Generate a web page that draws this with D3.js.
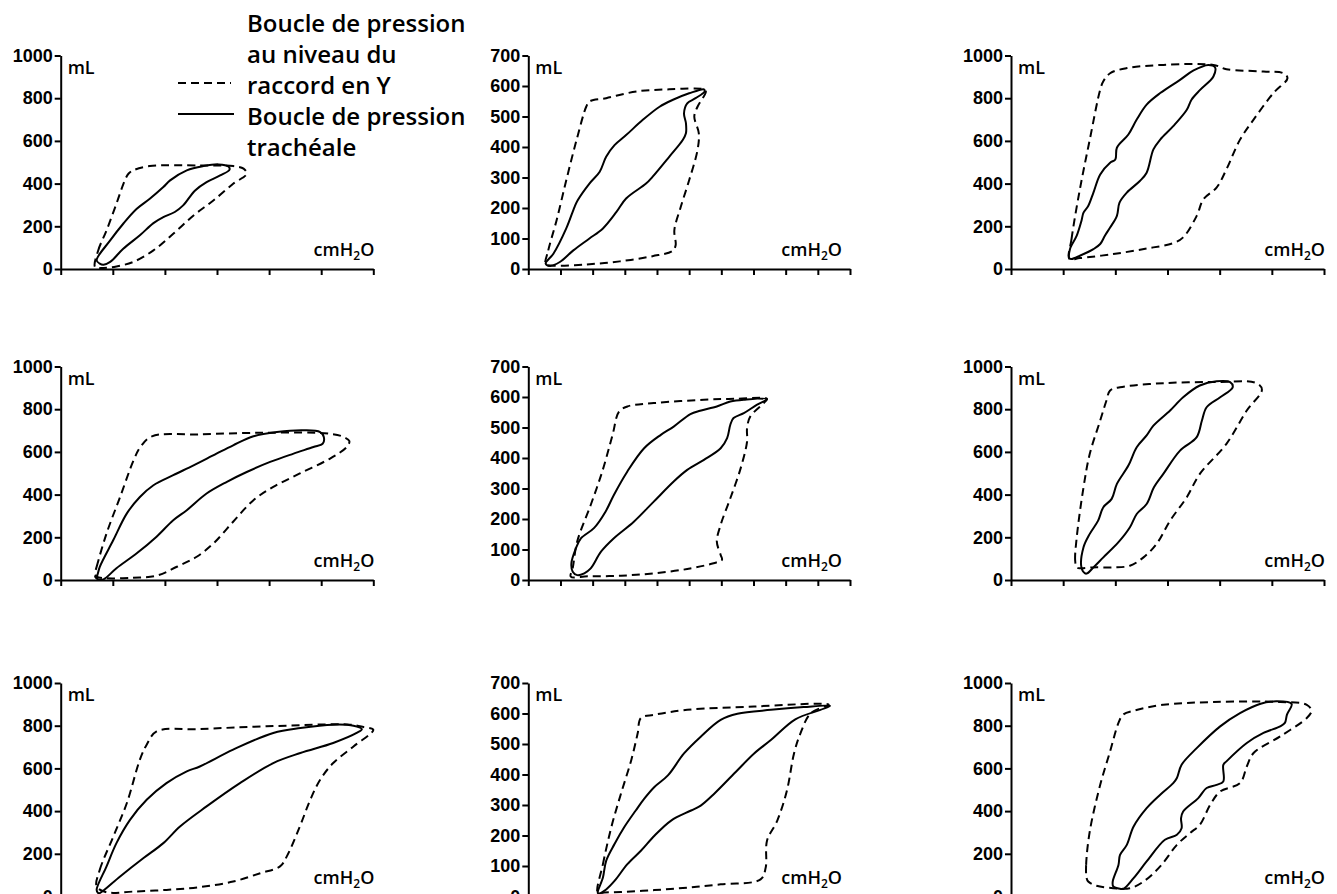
<!DOCTYPE html>
<html>
<head>
<meta charset="utf-8">
<title>Boucles de pression</title>
<script src="https://d3js.org/d3.v7.min.js"></script>
<style>
  body { margin: 0; background: #fff; }
  svg { display: block; font-family: "Open Sans", sans-serif; }
  .axis path, .axis line { stroke: #000; stroke-width: 2; }
  .axis text { font-size: 18px; font-weight: 600; fill: #000; }
  .unit { font-size: 18px; font-weight: 600; fill: #000; }
  .legend text { font-size: 24px; font-weight: 600; fill: #000; }
  .loop { fill: none; stroke: #000; stroke-width: 2; stroke-linejoin: round; }
  .ypiece { stroke-dasharray: 8 5; }
</style>
</head>
<body>
<svg width="1337" height="894"></svg>
<script>
// pressure (cmH2O) / volume (mL) loops
const yPiece1 = [[6.6,9],[7.2,87],[8.8,181],[10.7,306],[12.3,415],[13.0,446],[13.9,462],[17.1,482],[26.7,485],[33.1,482],[35.1,470],[35.7,446],[33.1,399],[29.3,321],[25.5,251],[21.6,165],[17.8,87],[13.9,33],[10.7,12],[8.2,5]];
const trach1 = [[7.5,25],[6.9,41],[9.5,134],[12.0,212],[14.6,282],[17.1,329],[19.7,384],[21.0,415],[24.2,462],[27.4,482],[30.3,490],[32.2,480],[32.4,465],[30.6,438],[28.0,407],[25.8,368],[23.5,298],[21.9,267],[19.7,243],[17.8,215],[15.2,158],[12.0,95],[9.5,33],[8.2,20]];

const yPiece2 = [[2.7,15],[3.1,61],[4.4,160],[5.9,291],[7.5,423],[9.0,532],[9.5,549],[12.1,560],[16.8,582],[21.9,589],[27.3,589],[27.6,582],[26.3,532],[25.8,500],[26.5,445],[26.3,390],[25.0,291],[23.7,204],[22.7,127],[22.9,78],[22.4,59],[19.3,42],[14.2,25],[9.0,15],[3.9,11]];
const trach2 = [[2.7,18],[3.9,50],[5.9,133],[7.2,204],[7.7,226],[9.5,280],[11.1,319],[12.1,368],[13.4,406],[15.2,439],[17.8,489],[20.4,532],[22.4,554],[25.0,576],[27.3,589],[27.4,582],[26.0,560],[24.7,543],[24.2,510],[24.5,478],[24.5,445],[24.0,423],[21.9,368],[19.3,302],[18.3,280],[15.2,231],[13.7,187],[11.6,133],[9.5,100],[7.0,61],[4.9,23],[3.4,10]];

const yPiece3 = [[11.2,47],[11.6,140],[13.2,373],[15.1,606],[17.1,840],[17.7,879],[19.0,917],[22.2,941],[29.2,956],[38.8,956],[41.3,936],[48.4,925],[52.2,917],[53.0,894],[50.3,824],[46.5,700],[43.9,606],[41.3,467],[39.4,381],[36.9,327],[35.6,249],[33.0,148],[31.1,121],[26.0,96],[19.6,70],[13.2,51]];
const trach3 = [[11.2,50],[11.3,93],[12.6,156],[13.5,225],[13.9,264],[14.8,295],[15.8,358],[17.1,443],[19.0,498],[20.0,513],[20.3,568],[22.5,630],[24.1,700],[26.0,770],[28.6,824],[32.4,886],[35.0,930],[37.8,956],[39.1,945],[38.8,902],[36.3,840],[34.6,793],[33.7,746],[31.1,669],[28.6,606],[27.3,560],[26.0,451],[24.7,412],[22.2,358],[20.8,311],[20.3,249],[19.0,194],[18.0,156],[17.1,117],[15.8,93],[13.2,62],[11.6,47]];

const yPiece4 = [[6.6,31],[6.9,62],[8.8,218],[11.4,389],[14.0,561],[15.3,623],[17.5,673],[26.7,682],[39.5,690],[51.7,685],[54.3,670],[55.4,651],[54.9,623],[51.7,569],[45.9,499],[40.8,436],[37.0,374],[33.1,273],[29.3,171],[26.1,109],[22.3,62],[18.4,20],[13.9,11],[8.8,8],[6.9,16]];
const trach4 = [[6.9,16],[7.5,62],[10.1,187],[12.7,312],[15.2,389],[17.8,444],[21.6,491],[25.5,537],[29.9,592],[33.1,631],[37.0,673],[41.5,693],[46.6,701],[49.8,693],[50.5,670],[50.3,639],[48.5,623],[44.7,592],[40.2,553],[35.7,506],[31.9,460],[28.0,405],[24.2,327],[21.6,280],[18.4,203],[14.6,125],[10.7,55],[8.2,3],[7.2,3],[6.6,16]];

const yPiece5 = [[6.6,11],[6.9,38],[7.6,126],[9.7,246],[11.5,356],[13.1,476],[14.1,552],[15.4,569],[19.5,580],[27.3,591],[32.4,594],[37.1,594],[36.6,580],[34.5,536],[34.0,498],[34.0,454],[33.0,366],[31.4,268],[29.9,181],[29.3,126],[29.9,82],[30.1,66],[28.8,55],[24.7,36],[19.5,22],[14.4,14],[9.2,12]];
const trach5 = [[7.6,16],[6.9,27],[6.7,55],[7.4,104],[8.2,137],[10.2,170],[12.0,224],[13.3,279],[15.4,356],[18.0,432],[20.6,476],[22.6,503],[25.2,544],[26.7,555],[29.3,569],[31.4,585],[33.5,591],[37.1,593],[35.5,574],[33.5,547],[31.9,531],[31.4,509],[30.9,465],[29.9,432],[27.3,394],[24.7,361],[22.6,323],[19.5,257],[16.4,191],[13.3,137],[11.3,93],[9.7,38],[8.7,22]];

const yPiece6 = [[12.6,59],[12.3,91],[12.6,200],[13.9,434],[15.1,591],[17.1,747],[18.3,841],[19.0,888],[20.9,903],[29.2,922],[38.8,927],[47.1,922],[48.1,891],[45.2,794],[41.3,638],[36.2,497],[33.7,388],[30.5,278],[27.9,169],[25.4,106],[22.8,67],[19.6,59],[15.8,59],[13.3,55]];
const trach6 = [[14.2,31],[13.5,59],[13.9,153],[15.1,216],[16.7,278],[17.7,341],[19.3,380],[20.3,450],[22.5,536],[24.1,622],[26.0,677],[27.3,723],[30.5,794],[33.0,856],[36.2,911],[39.4,931],[42.0,927],[42.5,903],[40.1,856],[37.5,809],[36.6,747],[35.6,669],[32.4,606],[29.2,497],[27.4,434],[26.0,356],[24.1,309],[22.8,247],[20.6,177],[17.7,106],[15.8,59],[14.6,31]];

const yPiece7 = [[6.9,47],[7.5,125],[10.1,281],[12.7,438],[15.2,641],[16.5,711],[18.4,773],[26.7,784],[39.5,797],[55.5,805],[58.1,794],[60.0,781],[56.2,703],[52.3,625],[49.8,547],[47.9,453],[45.9,328],[43.4,188],[42.1,141],[38.3,109],[33.1,70],[26.7,44],[20.3,31],[13.9,23],[8.8,20]];
const trach7 = [[7.2,16],[6.9,31],[8.8,141],[10.7,250],[13.3,359],[16.5,453],[20.3,531],[24.2,586],[26.7,609],[33.1,688],[40.8,766],[46.0,789],[52.3,805],[56.2,800],[57.8,784],[56.8,766],[52.3,719],[46.0,672],[40.8,625],[34.4,531],[28.0,422],[22.9,328],[19.7,250],[15.9,180],[11.4,94],[7.5,16]];

const yPiece8 = [[10.8,12],[11.6,106],[12.9,227],[14.4,337],[16.0,447],[17.0,535],[17.5,585],[19.6,596],[24.7,612],[35.1,623],[45.4,632],[46.7,629],[43.9,601],[42.3,535],[41.3,469],[40.2,348],[38.7,249],[37.1,183],[36.9,95],[36.1,56],[29.9,40],[24.7,29],[19.6,21],[14.4,15],[11.8,13]];
const trach8 = [[10.8,12],[11.6,62],[12.1,117],[13.4,172],[14.9,227],[16.7,282],[18.0,320],[19.6,359],[21.7,397],[24.2,469],[26.8,524],[29.9,579],[32.5,599],[37.7,612],[42.8,621],[46.9,625],[45.4,612],[41.5,581],[37.7,513],[35.1,469],[32.5,414],[28.9,337],[26.8,298],[25.3,282],[22.2,249],[19.6,199],[17.5,150],[15.4,106],[13.4,51],[12.1,23],[11.0,10]];

const yPiece9 = [[14.5,86],[14.4,148],[15.1,305],[17.1,523],[19.0,680],[20.6,813],[21.5,852],[23.5,870],[29.2,898],[38.8,911],[51.6,911],[56.7,898],[57.6,870],[56.7,836],[51.6,750],[46.5,672],[45.2,609],[43.9,531],[40.1,492],[38.2,430],[36.2,336],[34.3,297],[31.8,242],[28.6,141],[25.4,70],[22.8,39],[19.6,39],[16.4,50],[14.8,70]];
const trach9 = [[20.9,36],[19.6,47],[19.5,70],[20.6,148],[20.9,195],[22.2,242],[23.5,328],[26.0,414],[28.6,477],[31.1,531],[31.8,555],[32.7,617],[35.6,695],[40.1,797],[43.9,859],[47.7,902],[50.9,914],[53.8,902],[52.9,852],[52.5,813],[51.6,797],[48.4,766],[45.2,719],[41.3,633],[40.7,617],[40.7,539],[39.4,523],[37.5,508],[35.9,461],[33.0,398],[32.6,367],[32.7,320],[31.8,289],[29.5,266],[26.0,164],[23.5,86],[21.6,36]];

const yTicksWide = [0, 200, 400, 600, 800, 1000];
const yTicksNarrow = [0, 100, 200, 300, 400, 500, 600, 700];
const xTicksWide = [0, 10, 20, 30, 40, 50, 60];
const xTicksNarrow = [0, 5, 10, 15, 20, 25, 30, 35, 40, 45, 50];
const legendLines = ["Boucle de pression", "au niveau du", "raccord en Y", "Boucle de pression", "trachéale"];

const yPieces = [yPiece1, yPiece2, yPiece3, yPiece4, yPiece5, yPiece6, yPiece7, yPiece8, yPiece9];
const trachs = [trach1, trach2, trach3, trach4, trach5, trach6, trach7, trach8, trach9];

// layout
const colX = [[60.7, 373.3], [528.3, 850], [1011, 1324]];
const rowY = [[55.5, 269], [366.5, 580], [683, 896.5]];
const unitShift = [1, -8, 1];

const svg = d3.select("svg");

for (let i = 0; i < 9; i++) {
  const row = Math.floor(i / 3), col = i % 3;
  const narrow = col === 1;
  const xt = narrow ? xTicksNarrow : xTicksWide;
  const yt = narrow ? yTicksNarrow : yTicksWide;
  const x = d3.scaleLinear().domain([0, xt[xt.length - 1]]).range(colX[col]);
  const y = d3.scaleLinear().domain([0, yt[yt.length - 1]]).range([rowY[row][1], rowY[row][0]]);
  const g = svg.append("g");

  g.append("g").attr("class", "axis")
    .attr("transform", "translate(0," + y(0) + ")")
    .call(d3.axisBottom(x).tickValues(xt).tickFormat("").tickSize(6).tickSizeOuter(0));
  g.append("g").attr("class", "axis")
    .attr("transform", "translate(" + x(0) + ",0)")
    .call(d3.axisLeft(y).tickValues(yt).tickFormat(d3.format("d"))
      .tickSize(6).tickPadding(2).tickSizeOuter(0));

  g.append("text").attr("class", "unit")
    .attr("x", x(0) + 7).attr("y", y.range()[1] + 18)
    .text("mL");
  const u = g.append("text").attr("class", "unit")
    .attr("x", x.range()[1] + unitShift[col]).attr("y", y(0) - 13)
    .attr("text-anchor", "end");
  u.append("tspan").text("cmH");
  u.append("tspan").attr("font-size", 12).attr("dy", 4).text("2");
  u.append("tspan").attr("dy", -4).text("O");

  const line = d3.line()
    .x(d => x(d[0])).y(d => y(d[1]))
    .curve(d3.curveCatmullRomClosed.alpha(0.5));
  g.append("path").attr("class", "loop ypiece").attr("d", line(yPieces[i]));
  g.append("path").attr("class", "loop").attr("d", line(trachs[i]));
}

// legend
const lg = svg.append("g").attr("class", "legend");
lg.selectAll("text").data(legendLines).join("text")
  .attr("x", 247).attr("y", (d, i) => 32 + i * 31)
  .text(d => d);
lg.append("line").attr("class", "loop ypiece")
  .attr("x1", 178).attr("x2", 231).attr("y1", 83).attr("y2", 83);
lg.append("line").attr("class", "loop")
  .attr("x1", 178).attr("x2", 234).attr("y1", 114).attr("y2", 114);
</script>
</body>
</html>
